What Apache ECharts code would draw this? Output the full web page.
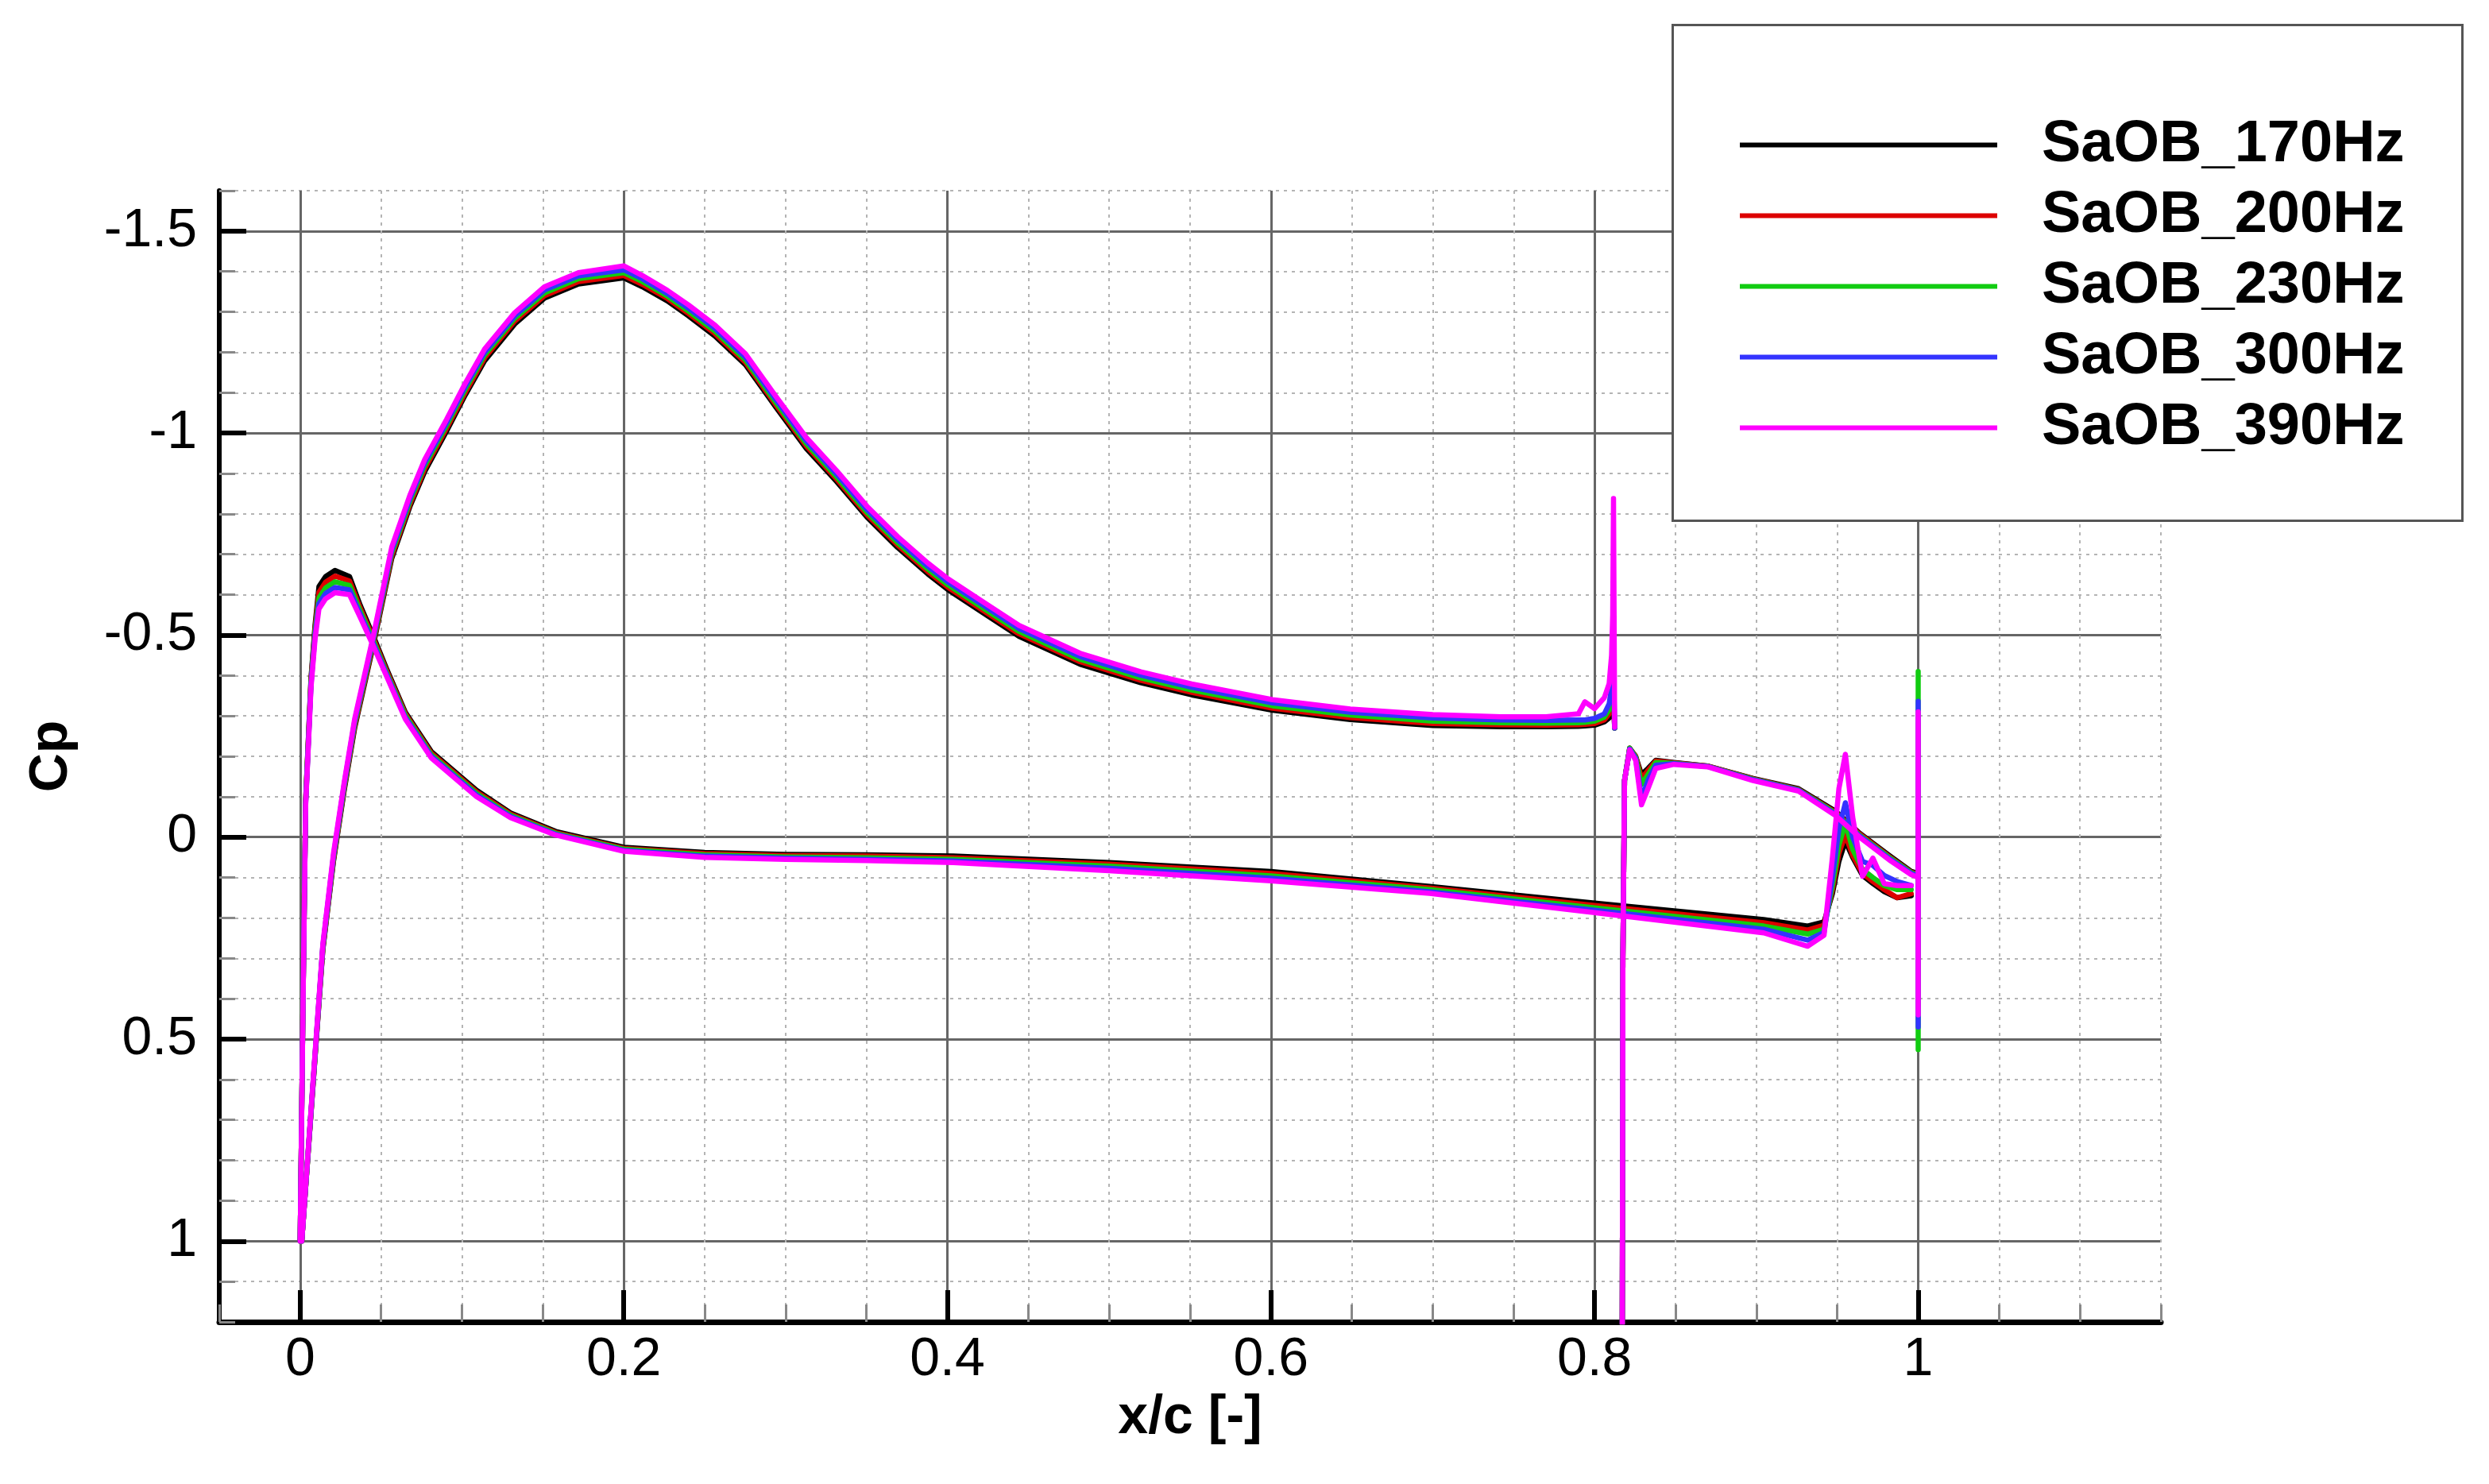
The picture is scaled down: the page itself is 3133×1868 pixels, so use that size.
<!DOCTYPE html>
<html>
<head>
<meta charset="utf-8">
<script src="https://cdn.jsdelivr.net/npm/echarts@6/dist/echarts.min.js"></script>
<style>
html,body{margin:0;padding:0;background:#fff;}
#chart{width:3133px;height:1868px;}
</style>
</head>
<body>
<div id="chart"></div>
<script>
// ---- data (x/c, Cp) ----
var seriesNames = ['SaOB_170Hz','SaOB_200Hz','SaOB_230Hz','SaOB_300Hz','SaOB_390Hz'];
var seriesColors = ['#000000','#dd0000','#11cc11','#3333ff','#ff00ff'];

var xTickLabels = [0, 0.2, 0.4, 0.6, 0.8, 1];
var yTickLabels = [-1.5, -1, -0.5, 0, 0.5, 1];

// main element, upper surface (trailing edge -> leading edge)
var xUpper = [0.8124,0.8117,0.8112,0.8105,0.809,0.806,0.80,0.794,0.79,0.77,0.742,0.70,0.649,0.601,0.551,0.5195,0.482,0.4443,0.4255,0.4005,0.388,0.3692,0.3503,0.3315,0.3128,0.294,0.2752,0.2564,0.240,0.227,0.2115,0.2,0.172,0.151,0.1326,0.114,0.102,0.0904,0.077,0.068,0.0566,0.0452,0.0337,0.0272,0.0206,0.014,0.0075,0.001];
var cpUpper170 = [-0.27,-0.33,-0.32,-0.31,-0.295,-0.285,-0.277,-0.275,-0.274,-0.273,-0.273,-0.276,-0.291,-0.314,-0.352,-0.382,-0.428,-0.497,-0.546,-0.612,-0.651,-0.717,-0.792,-0.88,-0.962,-1.064,-1.169,-1.24,-1.29,-1.327,-1.362,-1.384,-1.369,-1.334,-1.27,-1.179,-1.094,-1.004,-0.905,-0.82,-0.69,-0.475,-0.27,-0.115,0.06,0.28,0.64,1.0];
var cpUpper200 = [-0.27,-0.35,-0.34,-0.325,-0.305,-0.29,-0.281,-0.279,-0.278,-0.277,-0.278,-0.281,-0.296,-0.319,-0.358,-0.388,-0.434,-0.503,-0.552,-0.618,-0.657,-0.723,-0.798,-0.886,-0.968,-1.07,-1.175,-1.246,-1.296,-1.333,-1.368,-1.39,-1.375,-1.34,-1.277,-1.186,-1.10,-1.011,-0.912,-0.826,-0.696,-0.48,-0.275,-0.12,0.056,0.277,0.638,1.0];
var cpUpper230 = [-0.27,-0.38,-0.36,-0.34,-0.315,-0.297,-0.287,-0.284,-0.283,-0.282,-0.283,-0.287,-0.302,-0.325,-0.364,-0.394,-0.44,-0.509,-0.558,-0.624,-0.663,-0.729,-0.804,-0.892,-0.974,-1.076,-1.181,-1.252,-1.302,-1.339,-1.375,-1.397,-1.382,-1.347,-1.284,-1.193,-1.108,-1.018,-0.92,-0.833,-0.703,-0.486,-0.281,-0.125,0.051,0.273,0.636,1.0];
var cpUpper300 = [-0.27,-0.42,-0.40,-0.37,-0.33,-0.305,-0.294,-0.29,-0.29,-0.289,-0.29,-0.295,-0.309,-0.332,-0.371,-0.401,-0.447,-0.516,-0.565,-0.631,-0.67,-0.736,-0.811,-0.899,-0.981,-1.083,-1.188,-1.259,-1.309,-1.345,-1.382,-1.404,-1.389,-1.354,-1.29,-1.2,-1.115,-1.025,-0.927,-0.84,-0.71,-0.492,-0.287,-0.13,0.046,0.27,0.634,1.0];
var cpUpper390 = [-0.272,-0.838,-0.55,-0.45,-0.38,-0.345,-0.318,-0.335,-0.305,-0.298,-0.298,-0.303,-0.317,-0.34,-0.379,-0.409,-0.455,-0.524,-0.573,-0.639,-0.678,-0.744,-0.819,-0.907,-0.989,-1.091,-1.196,-1.267,-1.317,-1.353,-1.39,-1.414,-1.397,-1.362,-1.298,-1.208,-1.123,-1.033,-0.935,-0.848,-0.718,-0.498,-0.293,-0.135,0.04,0.266,0.63,1.0];

// main element, lower surface (leading edge -> trailing edge)
var xLower = [0.0,0.0018,0.0034,0.0067,0.0092,0.0116,0.0157,0.0215,0.0305,0.037,0.045,0.0534,0.065,0.081,0.109,0.13,0.158,0.2,0.25,0.3,0.35,0.4037,0.5,0.6,0.698,0.8,0.9045,0.9317,0.9418,0.947,0.951,0.955,0.9595,0.9656,0.972,0.979,0.987,0.9957];
var cpLower170 = [1.0,0.39,-0.092,-0.394,-0.525,-0.62,-0.645,-0.66,-0.645,-0.575,-0.50,-0.417,-0.309,-0.212,-0.116,-0.06,-0.014,0.025,0.038,0.043,0.044,0.047,0.063,0.085,0.122,0.163,0.204,0.22,0.21,0.14,0.06,0.01,0.05,0.095,0.115,0.135,0.15,0.145];
var cpLower200 = [1.0,0.392,-0.09,-0.389,-0.517,-0.606,-0.631,-0.646,-0.634,-0.568,-0.494,-0.412,-0.305,-0.208,-0.112,-0.057,-0.011,0.028,0.041,0.046,0.047,0.051,0.067,0.09,0.126,0.169,0.212,0.23,0.218,0.13,0.04,-0.005,0.045,0.09,0.11,0.13,0.15,0.14];
var cpLower230 = [1.0,0.394,-0.087,-0.383,-0.509,-0.592,-0.617,-0.632,-0.623,-0.561,-0.488,-0.407,-0.301,-0.204,-0.108,-0.054,-0.009,0.03,0.044,0.049,0.051,0.055,0.072,0.096,0.13,0.175,0.22,0.24,0.228,0.12,0.02,-0.035,0.03,0.08,0.10,0.12,0.13,0.13];
var cpLower300 = [1.0,0.397,-0.084,-0.377,-0.5,-0.578,-0.603,-0.618,-0.612,-0.553,-0.481,-0.403,-0.296,-0.2,-0.104,-0.051,-0.007,0.033,0.047,0.052,0.055,0.059,0.077,0.102,0.135,0.181,0.228,0.255,0.236,0.1,-0.02,-0.085,0.0,0.06,0.07,0.095,0.11,0.12];
var cpLower390 = [1.0,0.40,-0.08,-0.37,-0.49,-0.565,-0.59,-0.605,-0.6,-0.545,-0.475,-0.398,-0.292,-0.196,-0.10,-0.048,-0.005,0.035,0.05,0.055,0.058,0.063,0.083,0.108,0.139,0.187,0.237,0.27,0.243,0.05,-0.12,-0.205,-0.05,0.097,0.052,0.115,0.12,0.12];

// flap
var xFlap = [0.817,0.8175,0.8185,0.8217,0.8254,0.829,0.833,0.8378,0.849,0.8697,0.898,0.926,0.9487,0.9637,0.982,0.9957,1.0,1.0,1.0];
var cpFlap170 = [1.5,0.3,-0.14,-0.22,-0.2,-0.155,-0.17,-0.19,-0.185,-0.176,-0.145,-0.12,-0.065,-0.01,0.045,0.085,0.09,-0.25,0.40];
var cpFlap200 = [1.5,0.3,-0.14,-0.22,-0.2,-0.145,-0.165,-0.188,-0.184,-0.176,-0.144,-0.118,-0.062,-0.008,0.048,0.087,0.092,-0.28,0.42];
var cpFlap230 = [1.5,0.3,-0.14,-0.22,-0.198,-0.13,-0.155,-0.185,-0.183,-0.175,-0.143,-0.117,-0.06,-0.005,0.05,0.088,0.094,-0.41,0.526];
var cpFlap300 = [1.5,0.3,-0.14,-0.218,-0.195,-0.095,-0.14,-0.178,-0.182,-0.175,-0.142,-0.116,-0.057,-0.003,0.053,0.09,0.096,-0.336,0.47];
var cpFlap390 = [1.5,0.3,-0.14,-0.216,-0.19,-0.08,-0.12,-0.17,-0.18,-0.174,-0.14,-0.114,-0.054,0.0,0.056,0.093,0.10,-0.31,0.44];

var upperSets = [cpUpper170,cpUpper200,cpUpper230,cpUpper300,cpUpper390];
var lowerSets = [cpLower170,cpLower200,cpLower230,cpLower300,cpLower390];
var flapSets  = [cpFlap170,cpFlap200,cpFlap230,cpFlap300,cpFlap390];

function zip(xs, ys){ var out=[]; for(var i=0;i<xs.length;i++){ out.push([xs[i], ys[i]]); } return out; }

var FONT = 'Liberation Sans, Arial, Helvetica, sans-serif';
var series = [];
for (var k=0;k<seriesNames.length;k++){
  var common = {
    type:'line', name: seriesNames[k], showSymbol:false, symbol:'none',
    xAxisIndex:0, yAxisIndex:0, z: 3+k, silent:true, animation:false,
    color: seriesColors[k],
    lineStyle:{color: seriesColors[k], width:6.5, join:'round', cap:'round'},
    itemStyle:{color: seriesColors[k]}
  };
  series.push(Object.assign({}, common, {data: zip(xUpper, upperSets[k]).concat(zip(xLower, lowerSets[k]))}));
  series.push(Object.assign({}, common, {data: zip(xFlap, flapSets[k])}));
}

var chart = echarts.init(document.getElementById('chart'), null, {renderer:'canvas'});
chart.setOption({
  animation:false,
  backgroundColor:'#ffffff',
  grid:{left:276, right:413, top:240, bottom:204, containLabel:false},
  graphic:[{
    type:'rect', left:2104, top:30, z:50,
    shape:{width:994, height:624},
    style:{fill:'#ffffff', stroke:'#555555', lineWidth:3}
  }],
  legend:{
    show:true, orient:'vertical', left:2190, top:138, padding:0, itemGap:0, z:60,
    icon:'rect', itemWidth:324, itemHeight:6,
    data: seriesNames,
    textStyle:{fontFamily:FONT, fontSize:74, fontWeight:'bold', color:'#000', lineHeight:89, padding:[0,0,0,51]}
  },
  xAxis:[
    { // minor grid
      type:'value', min:-0.05, max:1.15, interval:0.05, position:'bottom',
      axisLine:{show:true, onZero:false, lineStyle:{color:'#000', width:7}},
      axisTick:{show:true, inside:true, length:22, lineStyle:{color:'#888', width:3}},
      axisLabel:{show:false},
      splitLine:{show:true, lineStyle:{color:'#b4b4b4', width:2, type:[4,6]}}
    },
    { // major ticks, labels, grid
      type:'value', min:-0.05, max:1.15, position:'bottom',
      name:'x/c [-]', nameLocation:'middle', nameGap:82,
      nameTextStyle:{fontFamily:FONT, fontSize:68, fontWeight:'bold', color:'#000'},
      axisLine:{show:false, onZero:false},
      axisTick:{show:true, inside:true, length:40, customValues:xTickLabels, lineStyle:{color:'#000', width:6}},
      axisLabel:{show:true, customValues:xTickLabels, margin:14, fontFamily:FONT, fontSize:68, color:'#000'},
      splitLine:{show:true, lineStyle:{color:'#666', width:3}}
    }
  ],
  yAxis:[
    {
      type:'value', min:-1.6, max:1.2, interval:0.1, inverse:true, position:'left',
      axisLine:{show:true, onZero:false, lineStyle:{color:'#000', width:6}},
      axisTick:{show:true, inside:true, length:20, lineStyle:{color:'#888', width:3}},
      axisLabel:{show:false},
      splitLine:{show:true, lineStyle:{color:'#b4b4b4', width:2, type:[4,6]}}
    },
    {
      type:'value', min:-1.6, max:1.2, inverse:true, position:'left',
      name:'Cp', nameLocation:'middle', nameGap:177,
      nameTextStyle:{fontFamily:FONT, fontSize:68, fontWeight:'bold', color:'#000'},
      axisLine:{show:false, onZero:false},
      axisTick:{show:true, inside:true, length:34, customValues:yTickLabels, lineStyle:{color:'#000', width:6}},
      axisLabel:{show:true, customValues:yTickLabels, margin:28, fontFamily:FONT, fontSize:68, color:'#000'},
      splitLine:{show:true, lineStyle:{color:'#666', width:3}}
    }
  ],
  series: series
});
</script>
</body>
</html>
